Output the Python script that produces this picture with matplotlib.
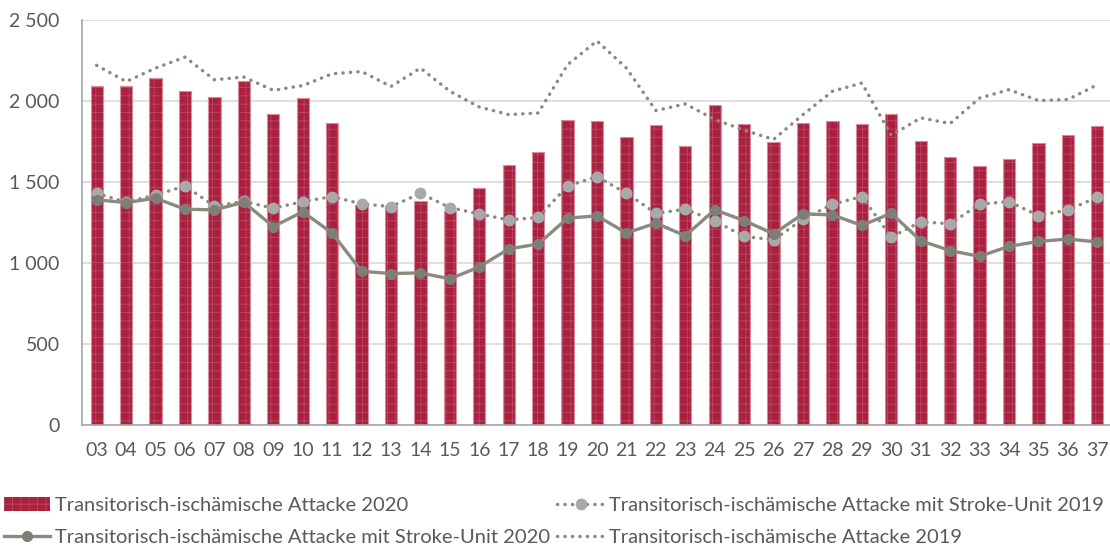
import numpy as np
import matplotlib.pyplot as plt

# ---------------- data ----------------
weeks = ["03", "04", "05", "06", "07", "08", "09", "10", "11", "12", "13", "14",
         "15", "16", "17", "18", "19", "20", "21", "22", "23", "24", "25", "26",
         "27", "28", "29", "30", "31", "32", "33", "34", "35", "36", "37"]

tia_2020 = [2090, 2090, 2140, 2060, 2025, 2125, 1920, 2020, 1865, 1360, 1350, 1385,
            1320, 1460, 1605, 1685, 1880, 1875, 1775, 1850, 1720, 1975, 1860, 1750,
            1865, 1875, 1860, 1920, 1755, 1655, 1600, 1645, 1740, 1790, 1845]

tia_su_2020 = [1390, 1373, 1400, 1332, 1328, 1375, 1225, 1316, 1185, 949, 935, 939,
               902, 976, 1087, 1117, 1277, 1291, 1185, 1246, 1168, 1328, 1262, 1180,
               1303, 1297, 1232, 1307, 1138, 1076, 1041, 1103, 1133, 1148, 1130]

tia_su_2019 = [1430, 1375, 1420, 1475, 1352, 1380, 1338, 1379, 1410, 1365, 1348, 1430,
               1342, 1303, 1266, 1281, 1475, 1533, 1430, 1307, 1332, 1260, 1164, 1143,
               1270, 1363, 1410, 1160, 1254, 1242, 1363, 1379, 1293, 1327, 1406]

tia_2019 = [2220, 2120, 2203, 2271, 2131, 2148, 2066, 2095, 2168, 2182, 2090, 2203,
            2060, 1963, 1916, 1926, 2224, 2371, 2203, 1941, 1982, 1886, 1820, 1763,
            1916, 2060, 2111, 1787, 1896, 1861, 2018, 2070, 2003, 2009, 2100]

labels = ["Transitorisch-ischämische Attacke 2020",
          "Transitorisch-ischämische Attacke mit Stroke-Unit 2020",
          "Transitorisch-ischämische Attacke mit Stroke-Unit 2019",
          "Transitorisch-ischämische Attacke 2019"]

# ---------------- style ----------------
BAR = "#AA2140"
BAR_HATCH = "#BC4A62"
BAR_EDGE = "#DA8C9C"
LINE = "#8A8A7E"
DARK_MK = "#7E7E78"
LIGHT_MK = "#A9A9A9"
TXT = "#595959"
GRID = "#D9D9D9"
DOTS = (0.05, 2.1)

plt.rcParams["font.family"] = ["Lato", "DejaVu Sans"]


def thousands(v, _pos=None):
    return f"{int(v):,}".replace(",", " ")


def main():
    fig = plt.figure(figsize=(11.1, 5.5), dpi=100)
    ax = fig.add_axes([82 / 1110, 1 - 425 / 550, 1030 / 1110, 405 / 550])

    x = np.arange(len(weeks))

    # fill with faint hatch, then a thin pinkish outline on top
    plt.rcParams["hatch.linewidth"] = 0.6
    ax.bar(x, tia_2020, width=0.42, color=BAR, edgecolor=BAR_HATCH, linewidth=0,
           hatch="++", zorder=2, label=labels[0])
    ax.bar(x, tia_2020, width=0.42, fill=False, edgecolor=BAR_EDGE, linewidth=0.8,
           zorder=2)

    ax.plot(x, tia_2019, color=LINE, linewidth=2.5, dashes=DOTS,
            dash_capstyle="round", zorder=3, label=labels[3])
    ax.plot(x, tia_su_2019, color=LINE, linewidth=2.5, dashes=DOTS,
            dash_capstyle="round", marker="o", markersize=7.5, markerfacecolor=LIGHT_MK,
            markeredgecolor=LIGHT_MK, zorder=4, label=labels[2])
    ax.plot(x, tia_su_2020, color=LINE, linewidth=2.4, marker="o", markersize=7,
            markerfacecolor=DARK_MK, markeredgecolor=DARK_MK, zorder=5, label=labels[1])

    ax.set_xlim(-0.5, len(weeks) - 0.5)
    ax.set_ylim(0, 2500)
    ax.set_yticks(np.arange(0, 2501, 500))
    ax.yaxis.set_major_formatter(plt.FuncFormatter(thousands))
    ax.set_xticks(x)
    ax.set_xticklabels(weeks)

    ax.grid(axis="y", color=GRID, linewidth=1.2, zorder=0)
    ax.set_axisbelow(True)
    for side in ["top", "right"]:
        ax.spines[side].set_visible(False)
    for side in ["left", "bottom"]:
        ax.spines[side].set_color("#A6A6A6")
        ax.spines[side].set_linewidth(1.2)

    ax.tick_params(axis="both", length=0, labelsize=14, colors=TXT)
    ax.tick_params(axis="x", pad=12)
    ax.tick_params(axis="y", pad=16)

    handles, labs = ax.get_legend_handles_labels()
    order = [labs.index(l) for l in labels]
    handles = [handles[i] for i in order]
    fig.legend(handles, labels, loc="lower left", bbox_to_anchor=(-0.002, -0.004),
               ncol=2, frameon=False, fontsize=14.5, labelcolor=TXT,
               handlelength=2.3, handletextpad=0.25, columnspacing=0.35,
               labelspacing=0.75, borderpad=0.3, borderaxespad=0.0)

    fig.savefig("out.png", dpi=100)
    plt.close(fig)


if __name__ == "__main__":
    main()
